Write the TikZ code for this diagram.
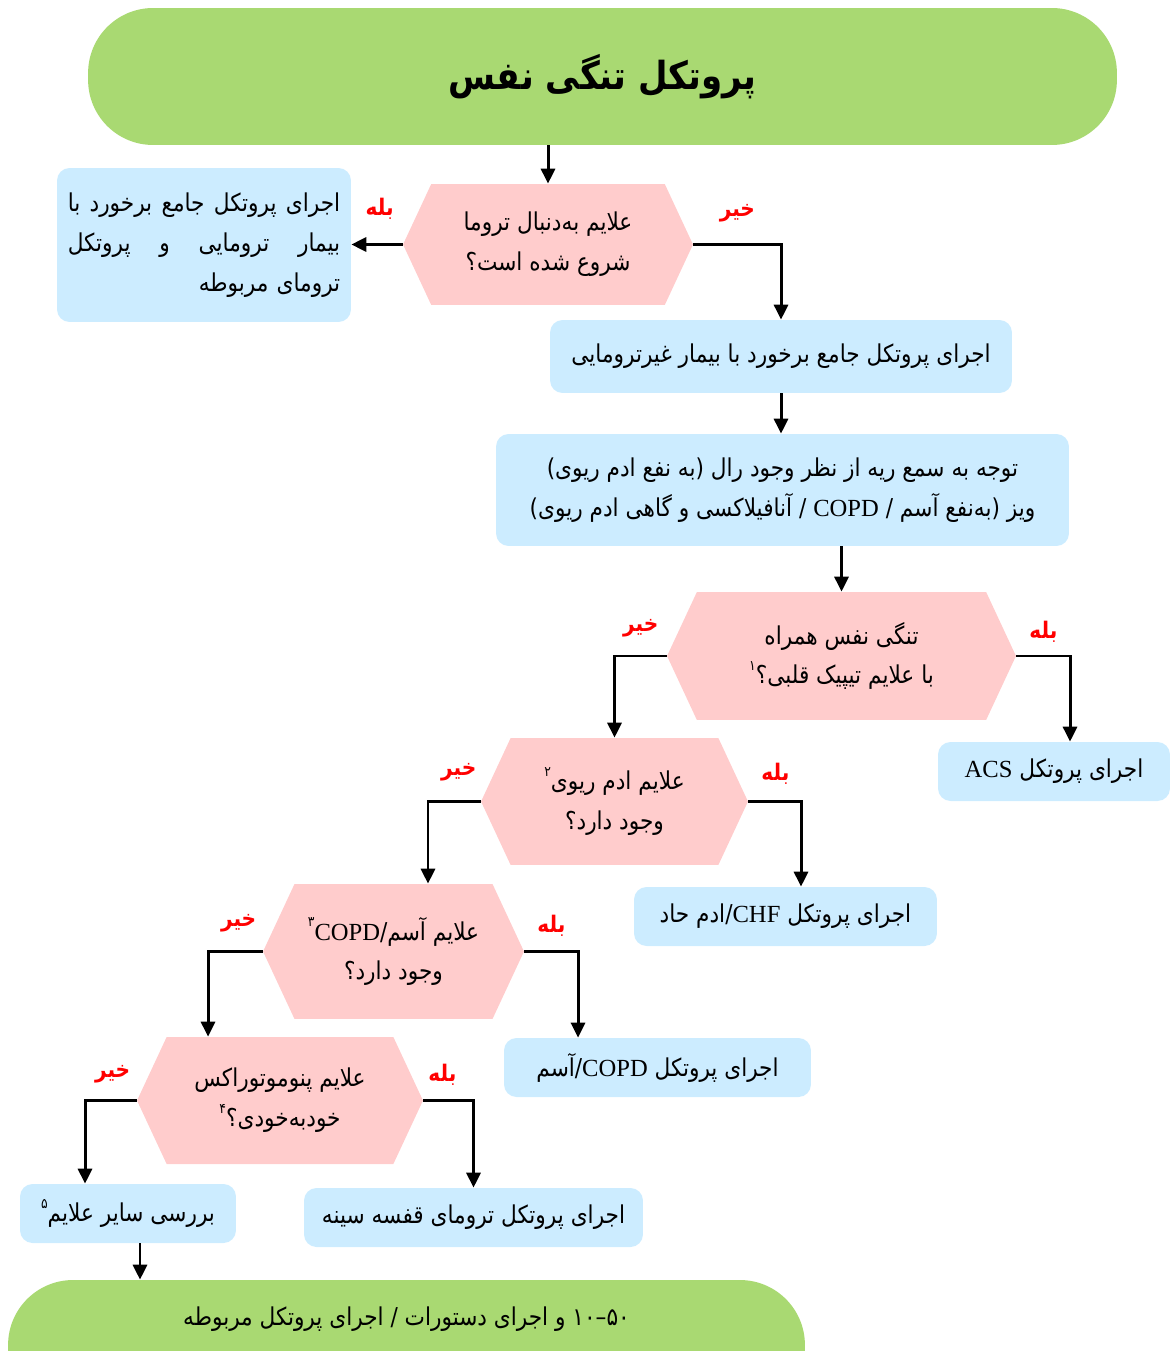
\documentclass[tikz,border=0pt]{standalone}
\usepackage{fontspec}
\usepackage{xcolor}
\usepackage{tikz}
\usetikzlibrary{arrows.meta,shapes.symbols,positioning,calc}
\TeXXeTstate=1
\newfontfamily\fafont[Script=Arabic,FakeStretch=0.88]{DejaVu Sans}
\newfontfamily\enfont{Liberation Serif}
\definecolor{termgreen}{RGB}{169,217,114}
\definecolor{decpink}  {RGB}{255,204,204}
\definecolor{actblue}  {RGB}{204,236,255}
\newcommand{\lat}[1]{\beginL{\enfont #1}\endL}
\newcommand{\fnum}[1]{\raisebox{0.55em}{\fontsize{8}{8}\selectfont #1}}
\newcommand{\rl}[1]{\beginR #1\endR}
\newcommand{\jline}[1]{\leavevmode\hbox to \linewidth{\beginR #1\endR}}
\tikzset{
  termbox/.style={fill=termgreen, rounded corners=1.3cm, minimum width=#1,
                  align=center, inner sep=0pt,
                  font=\fafont\fontsize{14}{22.7}\selectfont},
  actbox/.style ={fill=actblue, rounded corners=0.25cm, minimum width=#1,
                  minimum height=1.18cm, align=center, inner sep=2pt,
                  font=\fafont\fontsize{14}{22.7}\selectfont},
  actbox/.default=6cm,
  decbox/.style ={shape=signal, signal to=west and east,
                  signal pointer angle=130, fill=decpink,
                  minimum width=#1, align=center, inner sep=0pt,
                  font=\fafont\fontsize{14}{22.7}\selectfont},
  yeslbl/.style ={text=red, inner sep=1pt,
                  font=\fafont\bfseries\fontsize{13}{15}\selectfont},
  arr/.style    ={-{Triangle[length=0.3cm,width=0.28cm]}, line width=1.7pt},
}
\begin{document}
\begin{tikzpicture}[x=0.02cm,y=-0.02cm]
  \useasboundingbox (0,0) rectangle (1172,1351);
  % terminals
  \node[termbox=20.58cm, minimum height=2.74cm,
        font=\fafont\bfseries\fontsize{22}{26}\selectfont] (title) at (602.5,76.5)
        {\rl{پروتکل تنگی نفس}};
  \node[termbox=15.94cm, minimum height=2.8cm, text height=0.5cm, text depth=1.5cm]
        (final) at (406.5,1350)
        {\rl{۵۰–۱۰ و اجرای دستورات / اجرای پروتکل مربوطه}};
  % questions
  \node[decbox=5.8cm, minimum height=2.42cm] (qtrauma) at (548,244.5)
        {\rl{علایم به‌دنبال تروما}\\\rl{شروع شده است؟}};
  \node[decbox=6.98cm, minimum height=2.56cm] (qcardiac) at (841.5,656)
        {\rl{تنگی نفس همراه}\\\rl{با علایم تیپیک قلبی؟\fnum{۱}}};
  \node[decbox=5.34cm, minimum height=2.54cm] (qedema) at (614.5,801.5)
        {\rl{علایم ادم ریوی\fnum{۲}}\\\rl{وجود دارد؟}};
  \node[decbox=5.22cm, minimum height=2.7cm] (qcopd) at (393.5,951.5)
        {\rl{علایم آسم/\lat{COPD}\fnum{۳}}\\\rl{وجود دارد؟}};
  \node[decbox=5.72cm, minimum height=2.54cm] (qptx) at (280,1100.5)
        {\rl{علایم پنوموتوراکس}\\\rl{خودبه‌خودی؟\fnum{۴}}};
  % actions
  \node[actbox=5.88cm, minimum height=3.08cm, align=right, text width=5.45cm] (trauma) at (204,245)
        {\jline{اجرای\hfill پروتکل\hfill جامع\hfill برخورد\hfill با}\\
         \jline{بیمار\hfill ترومایی\hfill و\hfill پروتکل}\\
         \rl{ترومای مربوطه}};
  \node[actbox=9.24cm, minimum height=1.46cm] (nontrauma) at (781,356.5)
        {\rl{اجرای پروتکل جامع برخورد با بیمار غیرترومایی}};
  \node[actbox=11.46cm, minimum height=2.24cm] (auscult) at (782.5,490)
        {\rl{توجه به سمع ریه از نظر وجود رال (به نفع ادم ریوی)}\\
         \rl{ویز (به‌نفع آسم / \lat{COPD} / آنافیلاکسی و گاهی ادم ریوی)}};
  \node[actbox=4.64cm] (acs) at (1054,771.5) {\rl{اجرای پروتکل \lat{ACS}}};
  \node[actbox=6.06cm] (chf) at (785.5,916.5) {\rl{اجرای پروتکل \lat{CHF}/ادم حاد}};
  \node[actbox=6.14cm] (copd) at (657.5,1067.5) {\rl{اجرای پروتکل \lat{COPD}/آسم}};
  \node[actbox=6.78cm] (chest) at (473.5,1217.5) {\rl{اجرای پروتکل ترومای قفسه سینه}};
  \node[actbox=4.32cm] (other) at (128,1213.5) {\rl{بررسی سایر علایم\fnum{۵}}};
  % connectors
  \draw[arr] (qtrauma.north |- title.south) -- (qtrauma.north);
  \draw[arr] (qtrauma.west) -- (qtrauma.west -| trauma.east);
  \draw[arr] (qtrauma.east) -| (nontrauma.north);
  \draw[arr] (nontrauma.south) -- (nontrauma.south |- auscult.north);
  \draw[arr] (qcardiac.north |- auscult.south) -- (qcardiac.north);
  \draw[arr] (qcardiac.east) -| ([xshift=0.32cm]acs.north);
  \draw[arr] (qcardiac.west) -| (qedema.north);
  \draw[arr] (qedema.east) -| ([xshift=0.31cm]chf.north);
  \draw[arr] (qedema.west) -| ([xshift=0.69cm]qcopd.north);
  \draw[arr] (qcopd.east) -| ([xshift=-1.59cm]copd.north);
  \draw[arr] (qcopd.west) -| ([xshift=-1.44cm]qptx.north);
  \draw[arr] (qptx.east) -| (chest.north);
  \draw[arr] (qptx.west) -| ([xshift=-0.86cm]other.north);
  \draw[arr] ([xshift=0.24cm]other.south) -- ([xshift=0.24cm]other.south |- final.north);
  % yes / no
  \node[yeslbl] at ($(qtrauma.west)+(-23,-36)$) {\rl{بله}};
  \node[yeslbl] at ($(qtrauma.east)+(44,-31)$) {\rl{خیر}};
  \node[yeslbl] at ($(qcardiac.east)+(27,-24)$) {\rl{بله}};
  \node[yeslbl] at ($(qcardiac.west)+(-26,-28)$) {\rl{خیر}};
  \node[yeslbl] at ($(qedema.east)+(27,-28)$) {\rl{بله}};
  \node[yeslbl] at ($(qedema.west)+(-22,-29)$) {\rl{خیر}};
  \node[yeslbl] at ($(qcopd.east)+(27,-26)$) {\rl{بله}};
  \node[yeslbl] at ($(qcopd.west)+(-24,-28)$) {\rl{خیر}};
  \node[yeslbl] at ($(qptx.east)+(19,-26)$) {\rl{بله}};
  \node[yeslbl] at ($(qptx.west)+(-24,-26)$) {\rl{خیر}};
\end{tikzpicture}
\end{document}
